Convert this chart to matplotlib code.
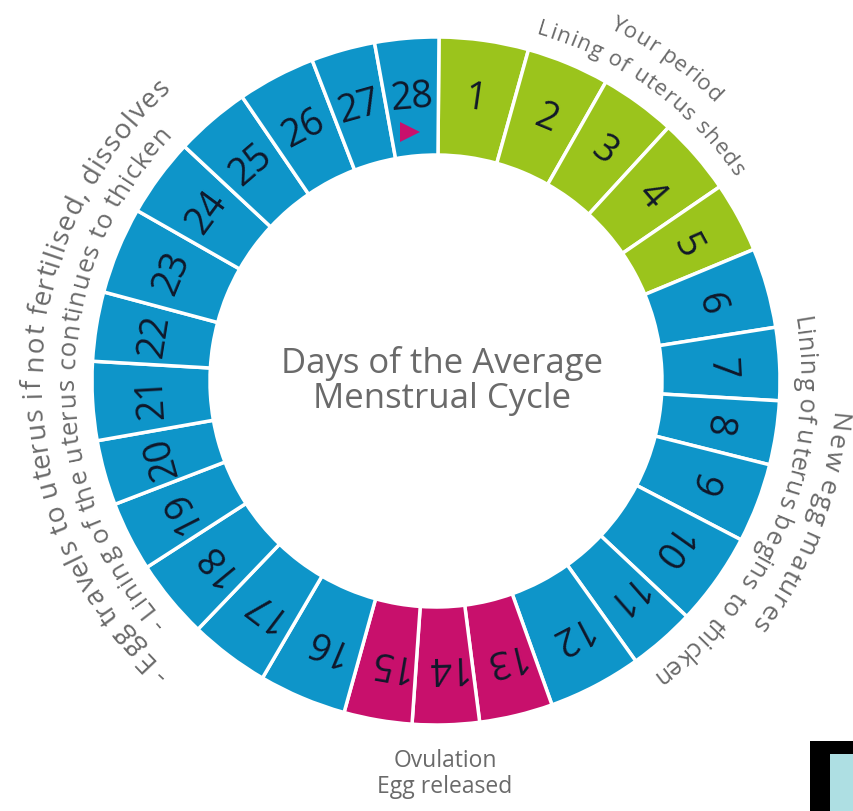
import numpy as np
import matplotlib
matplotlib.use("Agg")
import matplotlib.pyplot as plt
from matplotlib.font_manager import FontProperties
from matplotlib.textpath import TextToPath

# --- data ---
days = list(range(1, 29))
# arc (degrees) each day takes up; the segments in the original are not even
day_arc = [15.1, 14.0, 12.9, 13.1, 11.9, 13.5, 12.3, 10.8, 13.4, 15.7,
           11.3, 15.8, 12.4, 11.3, 11.5, 14.8, 13.5, 13.4, 11.8, 11.0,
           13.3, 11.7, 14.7, 13.3, 12.7, 13.2, 10.8, 10.8]
phase = ["period"] * 5 + ["other"] * 7 + ["ovulation"] * 3 + ["other"] * 13
phase_color = {"period": "#9bc41c", "ovulation": "#c8106c", "other": "#0e95c9"}

title_lines = ["Days of the Average", "Menstrual Cycle"]
bottom_lines = ["Ovulation", "Egg released"]
# curved notes round the ring: text, first/last letter bearing (deg), baseline radius, size
note_text = ["Your period", "Lining of uterus sheds",
             "New egg matures", "Lining of uterus begins to thicken",
             "- Egg travels to uterus if not fertilised, dissolves",
             "- Lining of the uterus continues to thicken"]
note_from = [27.0, 16.9, 95.8, 80.8, -136.7, -130.9]
note_to = [44.0, 54.8, 126.8, 142.8, -43.1, -48.0]
note_r = [394, 362, 397, 363, 395, 362]
note_size = [16, 16, 19, 18, 20, 18.5]

FONT = "Open Sans"
W, H = 854, 812
cx, cy = 436, H - 382
r_out, r_in = 344, 226
ttp = TextToPath()


def polar(bearing, r):
    b = np.radians(bearing)
    return cx + r * np.sin(b), cy + r * np.cos(b)


def arc_text(ax, text, b_first, b_last, r, size, color="#6a6a6a"):
    fp = FontProperties(family=FONT, size=size)

    def width(s):
        # width in pixels (dpi 100), "x" keeps trailing spaces counted
        return ttp.get_text_width_height_descent(s + "x", fp, ismath=False)[0] * 100 / 72

    base = width("")
    starts = [width(text[:i]) - base for i in range(len(text))]
    advs = [width(text[:i + 1]) - base - starts[i] for i in range(len(text))]
    n = len(text)
    c_first = advs[0] / 2
    c_last = starts[-1] + advs[-1] / 2
    target = np.radians(b_last - b_first) * r
    track = (target - (c_last - c_first)) / (n - 1)
    b0 = b_first - np.degrees(c_first / r)
    for i, ch in enumerate(text):
        s = starts[i] + i * track
        b_s = b0 + np.degrees(s / r)
        b_c = b0 + np.degrees((s + advs[i] / 2) / r)
        x, y = polar(b_s, r)
        ax.text(x, y, ch, fontproperties=fp, color=color, rotation=-b_c,
                rotation_mode="anchor", ha="left", va="baseline")


fig = plt.figure(figsize=(W / 100, H / 100), dpi=100)
ax = fig.add_axes([0, 0, 1, 1])

colors = [phase_color[p] for p in phase]
wedges, _ = ax.pie(day_arc, startangle=89.5, counterclock=False, radius=r_out,
                   center=(cx, cy), colors=colors,
                   wedgeprops=dict(width=r_out - r_in, edgecolor="white", linewidth=2.5))
ax.set_xlim(0, W)
ax.set_ylim(0, H)
ax.set_aspect("equal")
ax.axis("off")

# day numbers, tops pointing outwards
r_mid = (r_out + r_in) / 2
for w, d in zip(wedges, days):
    bearing = 90 - (w.theta1 + w.theta2) / 2
    x, y = polar(bearing, r_mid)
    ax.text(x, y, str(d), fontsize=27, family=FONT, color="#10182a",
            rotation=-bearing, rotation_mode="anchor", ha="center", va="center")

# little marker in day 28
w28 = wedges[days.index(28)]
b28 = 90 - (w28.theta1 + w28.theta2) / 2 - 1
ax.plot(*polar(b28, 250), marker=">", markersize=15, color=phase_color["ovulation"],
        markeredgewidth=0)

# centre title
ax.text(442, H - 373, title_lines[0], fontsize=25, family=FONT, color="#6a6a6a",
        ha="center", va="baseline")
ax.text(442, H - 408, title_lines[1], fontsize=25, family=FONT, color="#6a6a6a",
        ha="center", va="baseline")

# curved notes
for t, b1, b2, r, sz in zip(note_text, note_from, note_to, note_r, note_size):
    arc_text(ax, t, b1, b2, r, sz)

# bottom note
ax.text(445, H - 767, bottom_lines[0], fontsize=16.5, family=FONT, color="#6a6a6a",
        ha="center", va="baseline")
ax.text(445, H - 793, bottom_lines[1], fontsize=16.5, family=FONT, color="#6a6a6a",
        ha="center", va="baseline")

# corner of a neighbouring picture that was cut into the image
ax.add_patch(plt.Rectangle((810, 0), 60, H - 742, facecolor="black", edgecolor="none"))
ax.add_patch(plt.Rectangle((830, 0), 40, H - 755, facecolor="#aedfe3", edgecolor="none"))

fig.savefig("out.png", dpi=100)
